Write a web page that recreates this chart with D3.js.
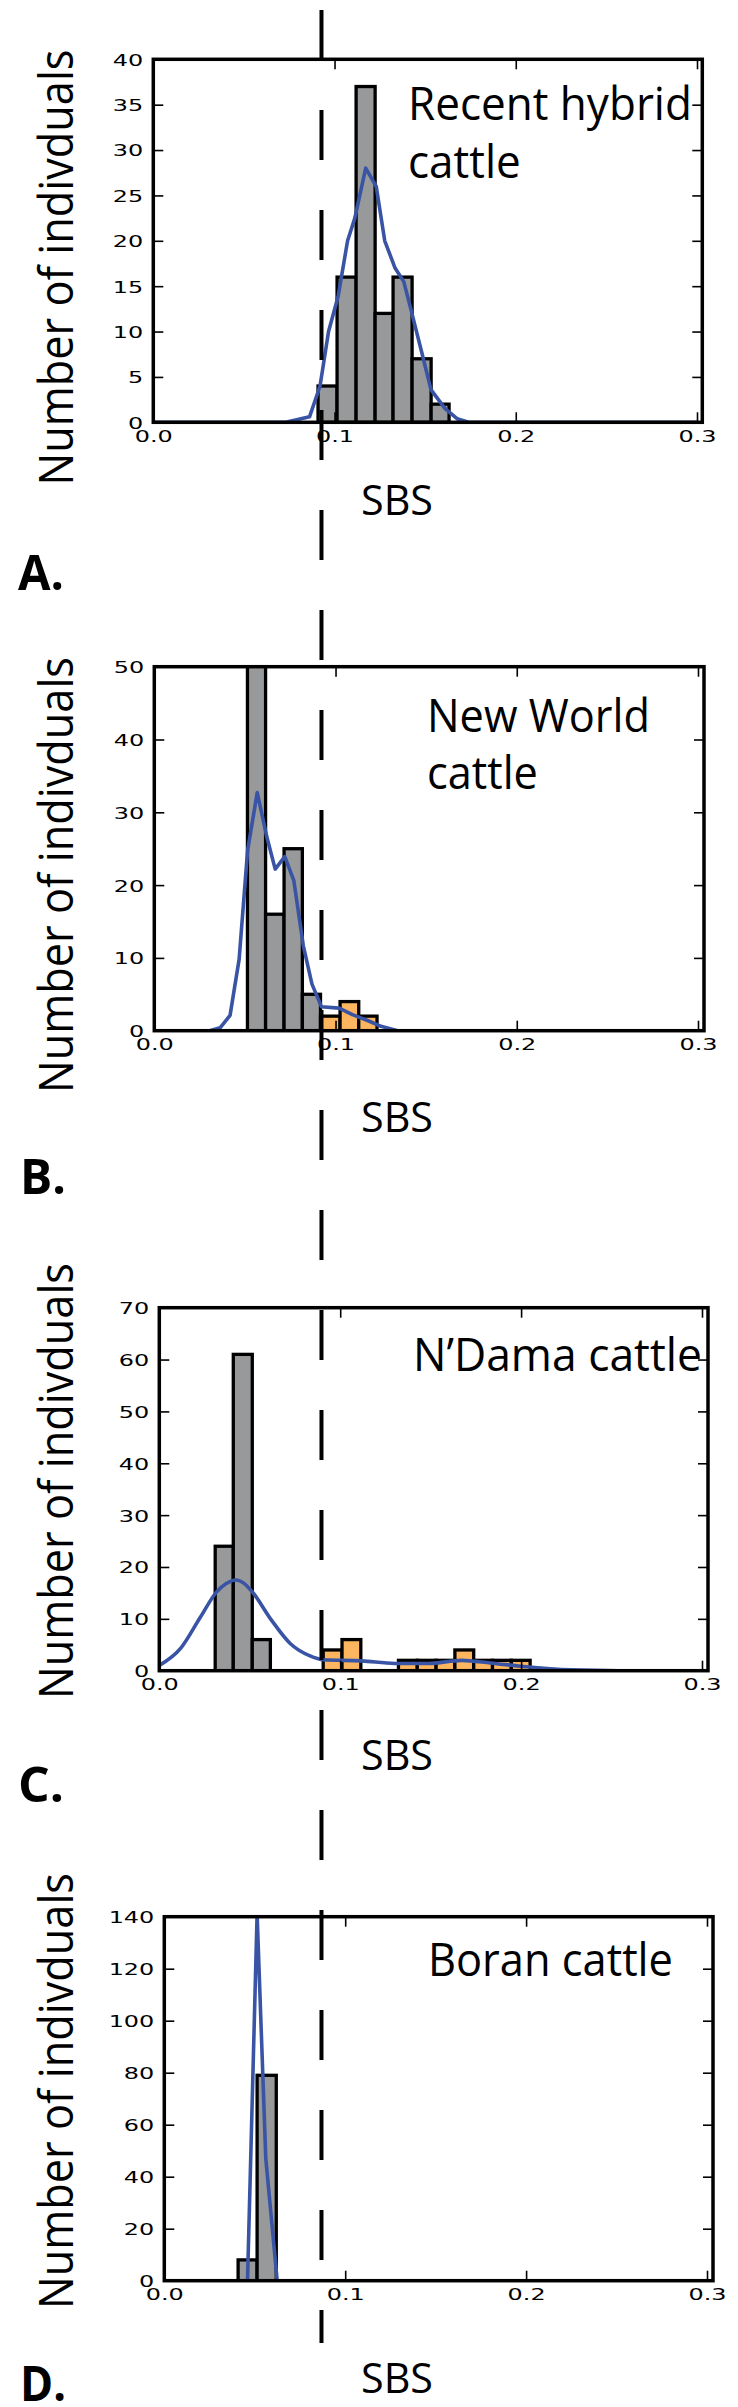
<!DOCTYPE html>
<html><head><meta charset="utf-8">
<script src="https://cdn.jsdelivr.net/npm/d3@7"></script>
<style>html,body{margin:0;padding:0;background:#fff}</style>
</head><body>
<svg id="fig" width="738" height="2407"></svg>
<script>
// ---------------- data ----------------
const panelLetters = ["A.", "B.", "C.", "D."];
const panelTitles = [["Recent hybrid", "cattle"], ["New World", "cattle"], ["N\u2019Dama cattle"], ["Boran cattle"]];
const yMaxes = [40, 50, 70, 140];
const yTickSteps = [5, 10, 10, 20];
const xTickValues = [0, 0.1, 0.2, 0.3];
const xTickLabels = ["0.0", "0.1", "0.2", "0.3"];
const xLabel = "SBS";
const yLabel = "Number of indivduals";
const sbsCutoff = 0.0928;

// histogram bins (edges) and counts; grey = below cutoff, orange = above
const binsA_edges = [0.0909, 0.1014, 0.1119, 0.1224, 0.1323, 0.1428, 0.1533, 0.1632];
const binsA_counts = [4, 16, 37, 12, 16, 7, 2];
const binsA_group  = ["g", "g", "g", "g", "g", "g", "g"];

const binsB_edges = [0.0514, 0.0614, 0.0716, 0.0817, 0.0917, 0.1025, 0.1128, 0.1229];
const binsB_counts = [52, 16, 25, 5, 2, 4, 2];
const binsB_group  = ["g", "g", "g", "g", "o", "o", "o"];

const binsC_grey_edges = [0.0309, 0.0409, 0.0514, 0.0614];
const binsC_grey_counts = [24, 61, 6];
const binsC_orange_edges = [0.0906, 0.1010, 0.1114, 0.1218, 0.1322, 0.1426, 0.1530, 0.1634, 0.1738, 0.1842, 0.1946, 0.2050];
const binsC_orange_counts = [4, 6, 0, 0, 2, 2, 2, 4, 2, 2, 2];

const binsD_edges = [0.0408, 0.0513, 0.0619];
const binsD_counts = [8, 79];

// density curves
const kdeA_x = [0, 0.0731, 0.0862, 0.092, 0.0967, 0.102, 0.1072, 0.1112, 0.1172, 0.123, 0.1277, 0.1334, 0.1382, 0.1427, 0.148, 0.1532, 0.161, 0.1676, 0.174, 0.3];
const kdeA_y = [0, 0, 0.6, 4, 10, 13.9, 20, 22.5, 28, 26, 20, 17, 15.5, 12, 7.8, 3.6, 1.5, 0.4, 0, 0];
const kdeB_x = [0, 0.0305, 0.0363, 0.0418, 0.0468, 0.0515, 0.0568, 0.062, 0.0667, 0.072, 0.077, 0.0822, 0.087, 0.0922, 0.102, 0.1093, 0.1177, 0.1251, 0.1343, 0.3];
const kdeB_y = [0, 0, 0.4, 2.1, 9.8, 24.8, 32.7, 26.7, 22.2, 23.9, 20.6, 11.7, 6.4, 3.3, 3.1, 2.2, 1.4, 0.6, 0, 0];
const kdeC_x = [0, 0.012, 0.0225, 0.0317, 0.037, 0.0422, 0.047, 0.0514, 0.0619, 0.0725, 0.083, 0.0909, 0.1119, 0.1303, 0.1488, 0.1672, 0.183, 0.2014, 0.2277, 0.254, 0.3];
const kdeC_y = [1.0, 4.4, 10.2, 15.2, 16.8, 17.5, 16.8, 15.2, 9.8, 5.2, 2.9, 2.1, 1.9, 1.4, 1.4, 2.0, 1.5, 0.8, 0.15, 0, 0];
const kdeD_x = [0, 0.046, 0.0513, 0.0561, 0.0624, 0.3];
const kdeD_y = [0, 0, 141, 47, 0, 0];

// ---------------- build panel tables from arrays ----------------
function toBars(edges, counts, groups) {
  return counts.map((c, i) => ({ x0: edges[i], x1: edges[i + 1], n: c, g: groups ? groups[i] : "g" }));
}
const panelBars = [
  toBars(binsA_edges, binsA_counts, binsA_group),
  toBars(binsB_edges, binsB_counts, binsB_group),
  toBars(binsC_grey_edges, binsC_grey_counts).concat(toBars(binsC_orange_edges, binsC_orange_counts, binsC_orange_counts.map(() => "o"))),
  toBars(binsD_edges, binsD_counts)
];
const panelKde = [
  kdeA_x.map((v, i) => [v, kdeA_y[i]]),
  kdeB_x.map((v, i) => [v, kdeB_y[i]]),
  kdeC_x.map((v, i) => [v, kdeC_y[i]]),
  kdeD_x.map((v, i) => [v, kdeD_y[i]])
];

// ---------------- layout / style ----------------
const frames = [
  { left: 153.3, right: 702.3, top: 59.3, bottom: 422.3, x03: 697 },
  { left: 154.3, right: 704, top: 666.7, bottom: 1030.7, x03: 698 },
  { left: 159.3, right: 708, top: 1307.7, bottom: 1670.7, x03: 702 },
  { left: 164.3, right: 713, top: 1916.7, bottom: 2280.7, x03: 707 }
];
const titlePos = [
  { x: 408, y: 120, lh: 57.7, w: 284 },
  { x: 427, y: 731.5, lh: 57.5, w: 223 },
  { x: 413, y: 1371, lh: 0, w: 289 },
  { x: 428, y: 1976, lh: 0, w: 245 }
];
const sbsY = [515, 1131.5, 1770, 2393];
const letterPos = [{ x: 18, y: 590 }, { x: 20, y: 1194 }, { x: 18, y: 1802 }, { x: 20, y: 2401 }];
const yLabelCY = [267.5, 875, 1481, 2091];
const curveTypes = [d3.curveLinear, d3.curveLinear, d3.curveMonotoneX, d3.curveLinear];

const GREY = "#98999b", ORANGE = "#fdb65f", BLUE = "#3a54a5";
const LABEL_FONT = "'Open Sans', 'Noto Sans', sans-serif";
const TICK_FONT = "'DejaVu Sans', sans-serif";
const TICK_SIZE = 16.5, TICK_STRETCH = 1.45;

const svg = d3.select("#fig");
svg.append("rect").attr("width", 738).attr("height", 2407).attr("fill", "#fff");

function fitText(g, str, o) {
  const t = g.append("text").text(str)
    .attr("font-family", o.family || LABEL_FONT)
    .attr("font-size", o.size)
    .attr("font-weight", o.weight || 400)
    .attr("text-anchor", o.anchor || "start")
    .attr("fill", "#000");
  const w = t.node().getComputedTextLength();
  const s = o.scale != null ? o.scale : (o.width ? o.width / w : 1);
  t.attr("transform", `translate(${o.x},${o.y})${o.rotate ? ` rotate(${o.rotate})` : ""} scale(${s},1)`);
  return s;
}

let xA = null;

frames.forEach((F, i) => {
  const g = svg.append("g");
  const x = d3.scaleLinear().domain([0, 0.3]).range([F.left, F.x03]);
  const y = d3.scaleLinear().domain([0, yMaxes[i]]).range([F.bottom, F.top]);
  if (i === 0) xA = x;

  const clipId = "clip" + i;
  svg.append("defs").append("clipPath").attr("id", clipId)
    .append("rect").attr("x", F.left).attr("y", F.top)
    .attr("width", F.right - F.left).attr("height", F.bottom - F.top);

  const plot = g.append("g").attr("clip-path", `url(#${clipId})`);
  plot.selectAll("rect.bar").data(panelBars[i].filter(d => d.n > 0)).join("rect")
    .attr("class", "bar")
    .attr("x", d => x(d.x0))
    .attr("width", d => x(d.x1) - x(d.x0))
    .attr("y", d => y(d.n))
    .attr("height", d => y(0) - y(d.n))
    .attr("fill", d => d.g === "o" ? ORANGE : GREY)
    .attr("stroke", "#000").attr("stroke-width", 3.3).attr("stroke-linejoin", "miter");

  plot.append("path").datum(panelKde[i])
    .attr("d", d3.line().x(d => x(d[0])).y(d => y(d[1])).curve(curveTypes[i]))
    .attr("fill", "none").attr("stroke", BLUE).attr("stroke-width", 3.6).attr("stroke-linejoin", "round");

  // axes (ticks pointing inward on all four sides)
  const yTicks = d3.range(0, yMaxes[i] + 0.001, yTickSteps[i]);
  const styleAxis = ax => {
    ax.select(".domain").remove();
    ax.selectAll(".tick line").attr("stroke", "#000").attr("stroke-width", 1.6);
  };
  const axL = g.append("g").attr("transform", `translate(${F.left},0)`)
    .call(d3.axisLeft(y).tickValues(yTicks).tickSize(-10).tickPadding(10).tickFormat(d3.format("d")));
  styleAxis(axL);
  axL.selectAll(".tick text").each(function () {
    const t = d3.select(this);
    t.attr("x", null).attr("dy", "0.36em")
      .attr("font-family", TICK_FONT).attr("font-size", TICK_SIZE).attr("fill", "#000")
      .attr("text-anchor", "end")
      .attr("transform", `translate(-10,0) scale(${TICK_STRETCH},1)`);
  });
  const axR = g.append("g").attr("transform", `translate(${F.right},0)`)
    .call(d3.axisRight(y).tickValues(yTicks.slice(1, -1)).tickSize(-10).tickFormat(""));
  styleAxis(axR);
  const axB = g.append("g").attr("transform", `translate(0,${F.bottom})`)
    .call(d3.axisBottom(x).tickValues(xTickValues).tickSize(-10).tickPadding(8)
      .tickFormat((d, k) => xTickLabels[k]));
  styleAxis(axB);
  axB.selectAll(".tick text").each(function () {
    const t = d3.select(this);
    t.attr("y", null).attr("dy", null)
      .attr("font-family", TICK_FONT).attr("font-size", TICK_SIZE).attr("fill", "#000")
      .attr("text-anchor", "middle")
      .attr("transform", `translate(0,19.5) scale(${TICK_STRETCH},1)`);
  });
  const axT = g.append("g").attr("transform", `translate(0,${F.top})`)
    .call(d3.axisTop(x).tickValues(xTickValues.slice(1)).tickSize(-10).tickFormat(""));
  styleAxis(axT);

  // frame
  g.append("rect").attr("x", F.left).attr("y", F.top)
    .attr("width", F.right - F.left).attr("height", F.bottom - F.top)
    .attr("fill", "none").attr("stroke", "#000").attr("stroke-width", 3.5);

  // labels
  const tp = titlePos[i];
  const s = fitText(g, panelTitles[i][0], { x: tp.x, y: tp.y, size: 45, weight: 500, width: tp.w });
  for (let k = 1; k < panelTitles[i].length; k++) {
    fitText(g, panelTitles[i][k], { x: tp.x, y: tp.y + tp.lh * k, size: 45, weight: 500, scale: s });
  }
  fitText(g, xLabel, { x: 397, y: sbsY[i], size: 42, weight: 500, width: 72, anchor: "middle" });
  fitText(g, yLabel, { x: 72.5, y: yLabelCY[i], size: 47, weight: 500, width: 436, anchor: "middle", rotate: -90 });
  fitText(g, panelLetters[i], { x: letterPos[i].x, y: letterPos[i].y, size: 49, weight: 700, width: 46 });
});

// vertical dashed cut-off line spanning the whole figure
svg.append("line")
  .attr("x1", xA(sbsCutoff)).attr("x2", xA(sbsCutoff))
  .attr("y1", 10).attr("y2", 2343)
  .attr("stroke", "#000").attr("stroke-width", 4).attr("stroke-dasharray", "50,50");
</script>
</body></html>
